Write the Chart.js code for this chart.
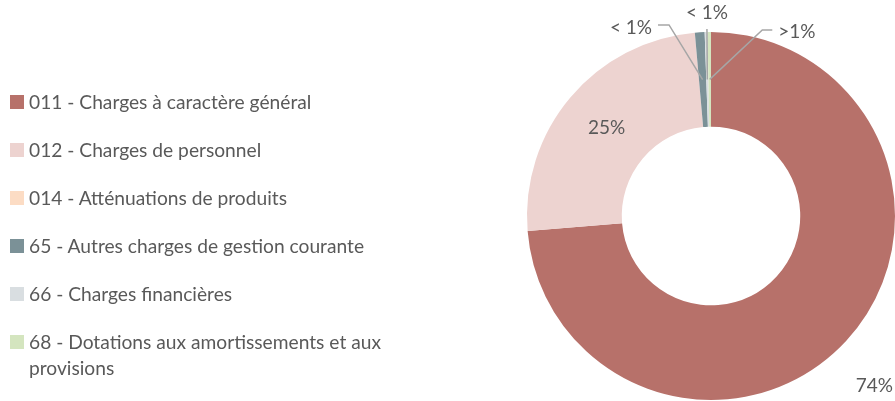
<!DOCTYPE html>
<html>
<head>
<meta charset="utf-8">
<script src="https://cdn.jsdelivr.net/npm/chart.js@4.4.1/dist/chart.umd.min.js"></script>
<style>
  html, body { margin: 0; padding: 0; background: #fff; }
  #wrap { position: relative; width: 895px; height: 401px; overflow: hidden; }
  #c { position: absolute; left: 0; top: 0; }
  #legend { position: absolute; left: 10px; top: 89px; width: 390px; font-family: Lato, "Open Sans", sans-serif; font-size: 19.2px; color: #595959; }
  .item { display: flex; align-items: flex-start; height: 48px; }
  .sw { width: 14px; height: 14px; margin-top: 6px; margin-right: 5px; flex: none; }
  .tx { line-height: 26px; width: 372px; }
</style>
</head>
<body>
<div id="wrap">
  <canvas id="c" width="895" height="401"></canvas>
  <div id="legend"></div>
</div>
<script>
const categories = [
  '011 - Charges à caractère général',
  '012 - Charges de personnel',
  '014 - Atténuations de produits',
  '65 - Autres charges de gestion courante',
  '66 - Charges financières',
  '68 - Dotations aux amortissements et aux provisions'
];
const values = [73.7, 24.9, 0, 0.85, 0.25, 0.3];
const pctLabels = ['74%', '25%', '', '< 1%', '< 1%', '>1%'];
const colors = ['#B7716A', '#EDD3D0', '#FCDCC4', '#7B9197', '#D9DEE1', '#D4E5BF'];

// label placement styles (relative to each arc)
const placement = [
  { type: 'outside', rf: 1.28, da: 0.06 },
  { type: 'inside' },
  null,
  { type: 'callout', dx: -0.435, dy: -1.022, side: 'left' },
  { type: 'callout', dx: -0.022, dy: -1.103, side: 'top' },
  { type: 'callout', dx: 0.467, dy: -1.0, side: 'right' }
];

const calloutPlugin = {
  id: 'callouts',
  afterDatasetsDraw(chart) {
    const meta = chart.getDatasetMeta(0);
    const ctx = chart.ctx;
    ctx.save();
    ctx.font = '19px Lato, "Open Sans", sans-serif';
    ctx.fillStyle = '#595959';
    ctx.textAlign = 'center';
    ctx.textBaseline = 'middle';
    ctx.strokeStyle = '#A6A6A6';
    ctx.lineWidth = 1.5;
    meta.data.forEach((arc, i) => {
      const txt = pctLabels[i];
      const p = placement[i];
      if (!txt || !p) return;
      const { x, y, startAngle, endAngle, innerRadius, outerRadius } =
        arc.getProps(['x', 'y', 'startAngle', 'endAngle', 'innerRadius', 'outerRadius'], true);
      const mid = (startAngle + endAngle) / 2;
      const rMid = (innerRadius + outerRadius) / 2;
      const ax = x + Math.cos(mid) * rMid, ay = y + Math.sin(mid) * rMid;
      if (p.type === 'inside') {
        ctx.fillText(txt, ax, ay);
      } else if (p.type === 'outside') {
        const a = mid + p.da, r = outerRadius * p.rf;
        ctx.fillText(txt, x + Math.cos(a) * r, y + Math.sin(a) * r);
      } else {
        const tx = x + p.dx * outerRadius, ty = y + p.dy * outerRadius;
        ctx.fillText(txt, tx, ty);
        const w = ctx.measureText(txt).width;
        ctx.beginPath();
        if (p.side === 'left') {
          const sx = tx + w / 2 + 6, sy = ty - 3;
          ctx.moveTo(sx, sy); ctx.lineTo(sx + 11, sy); ctx.lineTo(ax, ay);
        } else if (p.side === 'right') {
          const sx = tx - w / 2 - 6, sy = ty - 2;
          ctx.moveTo(sx, sy); ctx.lineTo(sx - 10, sy); ctx.lineTo(ax, ay);
        } else {
          ctx.moveTo(tx, ty + 16); ctx.lineTo(ax, ay);
        }
        ctx.stroke();
      }
    });
    ctx.restore();
  }
};

new Chart(document.getElementById('c'), {
  type: 'doughnut',
  data: {
    labels: categories,
    datasets: [{
      data: values,
      backgroundColor: colors,
      borderWidth: 0,
      hoverOffset: 0
    }]
  },
  options: {
    responsive: false,
    animation: false,
    cutout: '48.5%',
    layout: { padding: { left: 527, right: 0, top: 32, bottom: 1 } },
    plugins: { legend: { display: false }, tooltip: { enabled: false } }
  },
  plugins: [calloutPlugin]
});

const lg = document.getElementById('legend');
categories.forEach((c, i) => {
  const it = document.createElement('div');
  it.className = 'item';
  it.innerHTML = '<div class="sw" style="background:' + colors[i] + '"></div><div class="tx"></div>';
  it.querySelector('.tx').textContent = c;
  lg.appendChild(it);
});
</script>
</body>
</html>
